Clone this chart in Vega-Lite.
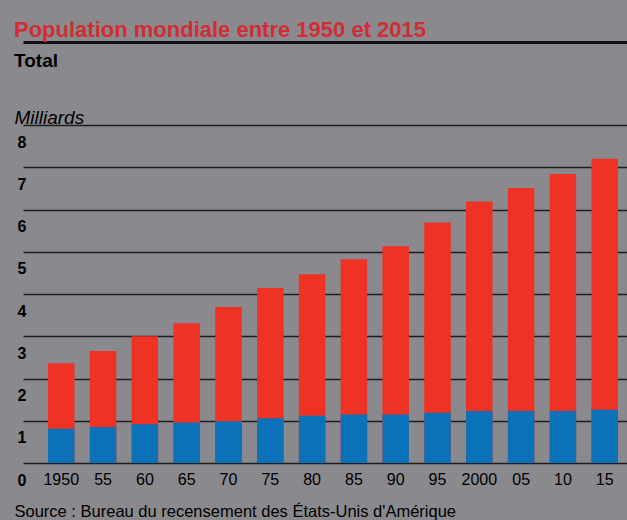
{
  "$schema": "https://vega.github.io/schema/vega-lite/v6.json",
  "width": 604,
  "height": 338,
  "autosize": {"type": "none"},
  "padding": {"left": 23, "top": 125, "right": 0, "bottom": 57},
  "background": "#8a898e",
  "config": {"view": {"stroke": null}, "font": "Liberation Sans"},
  "title": {
    "text": "Population mondiale entre 1950 et 2015",
    "subtitle": "Total",
    "anchor": "start",
    "frame": "group",
    "dx": -9,
    "dy": 30,
    "offset": 0,
    "fontSize": 22,
    "fontWeight": "bold",
    "color": "#cf2e34",
    "subtitleFontSize": 19,
    "subtitleFontWeight": "bold",
    "subtitleColor": "#000000",
    "subtitlePadding": 10
  },
  "data": {
    "values": [
      {"annee": "1950", "total": 2.36, "bleu": 0.81},
      {"annee": "55", "total": 2.65, "bleu": 0.85},
      {"annee": "60", "total": 3.0, "bleu": 0.92},
      {"annee": "65", "total": 3.31, "bleu": 0.96},
      {"annee": "70", "total": 3.69, "bleu": 0.99},
      {"annee": "75", "total": 4.14, "bleu": 1.06},
      {"annee": "80", "total": 4.47, "bleu": 1.12},
      {"annee": "85", "total": 4.82, "bleu": 1.15},
      {"annee": "90", "total": 5.13, "bleu": 1.15},
      {"annee": "95", "total": 5.69, "bleu": 1.19},
      {"annee": "2000", "total": 6.19, "bleu": 1.23},
      {"annee": "05", "total": 6.51, "bleu": 1.23},
      {"annee": "10", "total": 6.84, "bleu": 1.23},
      {"annee": "15", "total": 7.2, "bleu": 1.26}
    ]
  },
  "layer": [
    {
      "mark": {"type": "bar", "color": "#ee3224"},
      "encoding": {
        "x": {
          "field": "annee",
          "type": "nominal",
          "sort": null,
          "scale": {"paddingInner": 0.366, "paddingOuter": 0.407, "align": 0.735},
          "axis": {
            "orient": "bottom",
            "labelAngle": 0,
            "labelFontSize": 16,
            "labelColor": "#000000",
            "labelBaseline": "alphabetic",
            "labelPadding": 21,
            "ticks": false,
            "tickSize": 0,
            "domain": false,
            "title": "Source : Bureau du recensement des États-Unis d'Amérique",
            "titleX": -9,
            "titleY": 53,
            "titleAlign": "left",
            "titleBaseline": "alphabetic",
            "titleFontSize": 16.5,
            "titleFontWeight": "normal",
            "titleColor": "#000000"
          }
        },
        "y": {
          "field": "total",
          "type": "quantitative",
          "scale": {"domain": [0, 8]},
          "axis": {
            "title": "Milliards",
            "values": [0, 1, 2, 3, 4, 5, 6, 7, 8],
            "grid": true,
            "gridColor": "#1e1e22",
            "gridWidth": 1.5,
            "domain": false,
            "ticks": false,
            "tickSize": 0,
            "labelAlign": "left",
            "labelPadding": 6,
            "labelBaseline": "alphabetic",
            "labelOffset": 22,
            "labelOverlap": false,
            "labelFontSize": 16,
            "labelFontWeight": "bold",
            "labelColor": "#000000",
            "titleAngle": 0,
            "titleX": -9,
            "titleY": -2,
            "titleAlign": "left",
            "titleBaseline": "alphabetic",
            "titleFontSize": 19,
            "titleFontStyle": "italic",
            "titleFontWeight": "normal",
            "titleColor": "#000000"
          }
        }
      }
    },
    {
      "mark": {"type": "bar", "color": "#0b72b9"},
      "encoding": {
        "x": {
          "field": "annee",
          "type": "nominal",
          "sort": null,
          "axis": {
            "orient": "top",
            "offset": 83,
            "labels": false,
            "ticks": false,
            "grid": false,
            "title": null,
            "domain": true,
            "domainColor": "#111111",
            "domainWidth": 3
          }
        },
        "y": {"field": "bleu", "type": "quantitative", "title": "Milliards"}
      }
    }
  ],
  "resolve": {"axis": {"x": "independent"}}
}
